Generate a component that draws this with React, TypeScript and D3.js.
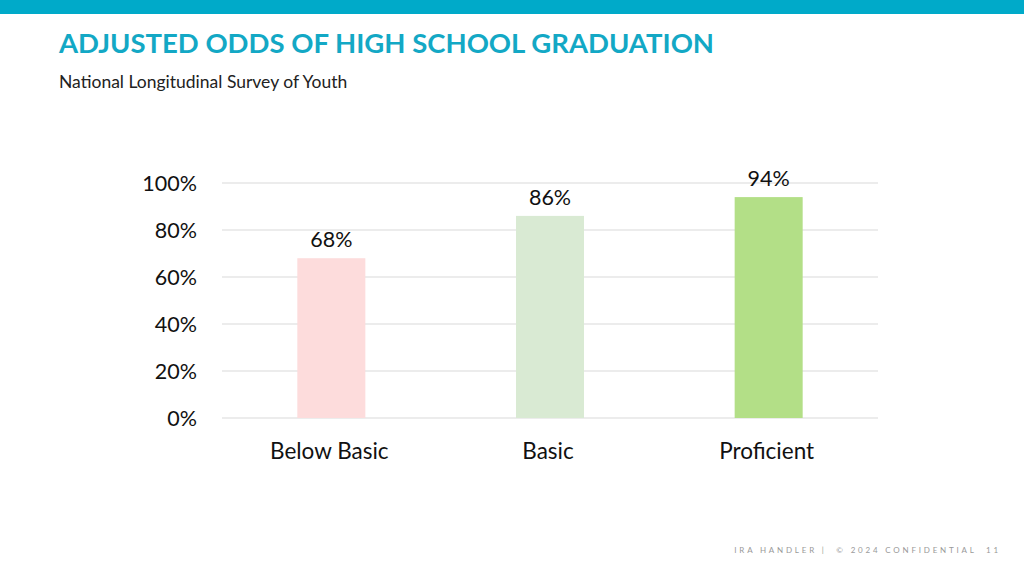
import React from "react";
import * as d3 from "d3";

const categories = ["Below Basic", "Basic", "Proficient"];
const values = [68, 86, 94];
const barColors = ["#fddcdc", "#d9ead3", "#b3df87"];
const yTicks = [0, 20, 40, 60, 80, 100];

const W = 1024;
const H = 576;
const FONT = "Lato, 'Open Sans', sans-serif";

export default function App() {
  const x = d3.scaleBand<string>().domain(categories).range([222, 878]).paddingInner(0.689).paddingOuter(0.3445);
  const y = d3.scaleLinear().domain([0, 100]).range([418, 183]);
  return (
    <div style={{ position: "fixed", left: 0, top: 0 }}>
      <svg width={W} height={H} style={{ display: "block", background: "#fff" }}>
        <rect x={0} y={0} width={W} height={14} fill="#00aac9" />
        <text x={59} y={53} fontFamily={FONT} fontWeight={700} fontSize={27.5} fill="#13a8c5">
          ADJUSTED ODDS OF HIGH SCHOOL GRADUATION
        </text>
        <text x={59} y={88} fontFamily={FONT} fontSize={17.5} fill="#222">
          National Longitudinal Survey of Youth
        </text>
        {yTicks.map((t) => (
          <g key={t}>
            <line x1={222} x2={878} y1={y(t)} y2={y(t)} stroke="#d9d9d9" strokeWidth={1} />
            <text x={197} y={y(t)} dy="0.35em" textAnchor="end" fontFamily={FONT} fontSize={21.5} fill="#111">
              {t}%
            </text>
          </g>
        ))}
        {categories.map((c, i) => (
          <g key={c}>
            <rect x={x(c)} y={y(values[i])} width={x.bandwidth()} height={y(0) - y(values[i])} fill={barColors[i]} />
            <text x={(x(c) as number) + x.bandwidth() / 2} y={y(values[i]) - 11} textAnchor="middle" fontFamily={FONT} fontSize={21.5} fill="#111">
              {values[i]}%
            </text>
            <text x={(x(c) as number) + x.bandwidth() / 2 - 2} y={459} textAnchor="middle" fontFamily={FONT} fontSize={22.5} fill="#111">
              {c}
            </text>
          </g>
        ))}
        <text x={1001} y={553} textAnchor="end" fontFamily={FONT} fontSize={8} letterSpacing={2.8} fill="#999" style={{ whiteSpace: "pre" }}>
          IRA HANDLER |  © 2024 CONFIDENTIAL  11
        </text>
      </svg>
    </div>
  );
}
